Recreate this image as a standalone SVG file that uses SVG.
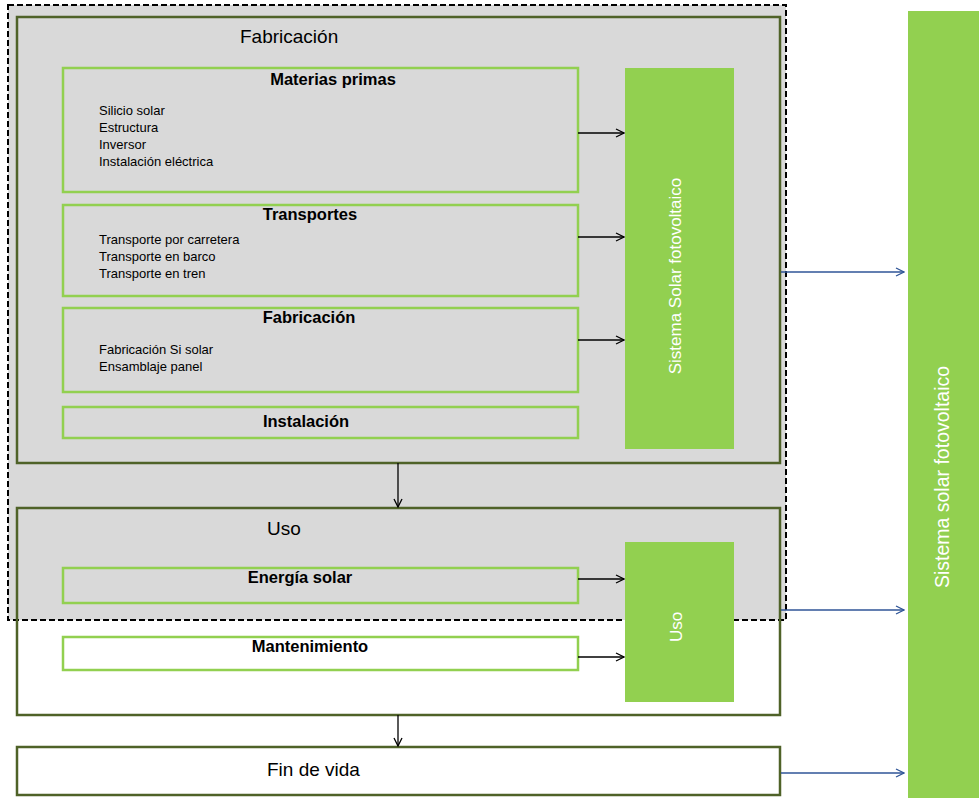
<svg xmlns="http://www.w3.org/2000/svg" width="979" height="798" viewBox="0 0 979 798">
<defs>
<style>
.t{font-family:"Liberation Sans",Arial,sans-serif;fill:#000}
.h{font-size:19px}
.b{font-size:16.5px;font-weight:bold;text-anchor:middle}
.l{font-size:13px}
.w{font-family:"Liberation Sans",Arial,sans-serif;fill:#fff;text-anchor:middle}
.dg{fill:none;stroke:#4f6228;stroke-width:2.5}
.lg{stroke:#92d050;stroke-width:2.5}
.gf{fill:#92d050}
.k{stroke:#000;stroke-width:1.3;fill:none}
.bl{stroke:#2f5597;stroke-width:1.3;fill:none}
</style>
<marker id="ak" markerWidth="10" markerHeight="10" refX="9" refY="5" orient="auto" markerUnits="userSpaceOnUse"><path d="M1,1 L9,5 L1,9" fill="none" stroke="#000" stroke-width="1.3"/></marker>
<marker id="ab" markerWidth="10" markerHeight="10" refX="9" refY="5" orient="auto" markerUnits="userSpaceOnUse"><path d="M1,1 L9,5 L1,9" fill="none" stroke="#2f5597" stroke-width="1.3"/></marker>
</defs>
<rect x="0" y="0" width="979" height="798" fill="#fff"/>
<g id="scope">
<rect x="8" y="5" width="778" height="615" fill="#d9d9d9" stroke="#000" stroke-width="2" stroke-dasharray="6,3"/>
</g>
<g id="fabricacion">
<rect class="dg" x="17" y="17" width="763" height="446"/>
<text class="t h" x="240" y="43">Fabricación</text>
</g>
<g id="materias">
<rect class="lg" x="63" y="68" width="515" height="124" fill="#d9d9d9"/>
<text class="t b" x="333" y="85">Materias primas</text>
<text class="t l" x="99" y="115">Silicio solar</text>
<text class="t l" x="99" y="132">Estructura</text>
<text class="t l" x="99" y="149">Inversor</text>
<text class="t l" x="99" y="166">Instalación eléctrica</text>
</g>
<g id="transportes">
<rect class="lg" x="63" y="205" width="515" height="91" fill="#d9d9d9"/>
<text class="t b" x="310" y="220">Transportes</text>
<text class="t l" x="99" y="244">Transporte por carretera</text>
<text class="t l" x="99" y="261">Transporte en barco</text>
<text class="t l" x="99" y="278">Transporte en tren</text>
</g>
<g id="fab-inner">
<rect class="lg" x="63" y="308" width="515" height="84" fill="#d9d9d9"/>
<text class="t b" x="309" y="323">Fabricación</text>
<text class="t l" x="99" y="354">Fabricación Si solar</text>
<text class="t l" x="99" y="371">Ensamblaje panel</text>
</g>
<g id="instalacion">
<rect class="lg" x="63" y="407" width="515" height="31" fill="#d9d9d9"/>
<text class="t b" x="306" y="427">Instalación</text>
</g>
<g id="sistema-fab">
<rect class="gf" x="625" y="68" width="109" height="381"/>
<text class="w" font-size="17" transform="translate(681,276) rotate(-90)">Sistema Solar fotovoltaico</text>
</g>
<g id="uso">
<rect class="dg" x="17" y="508" width="763" height="207"/>
<text class="t h" x="267" y="535">Uso</text>
</g>
<g id="energia">
<rect class="lg" x="63" y="568" width="515" height="35" fill="#d9d9d9"/>
<text class="t b" x="300" y="583">Energía solar</text>
</g>
<g id="mantenimiento">
<rect class="lg" x="63" y="637" width="515" height="33" fill="#fff"/>
<text class="t b" x="310" y="652">Mantenimiento</text>
</g>
<g id="uso-green">
<rect class="gf" x="625" y="542" width="109" height="160"/>
<text class="w" font-size="17" transform="translate(682,627) rotate(-90)">Uso</text>
</g>
<g id="findevida">
<rect x="17" y="747" width="763" height="48" fill="#fff" stroke="#4f6228" stroke-width="2.5"/>
<text class="t h" x="267" y="776">Fin de vida</text>
</g>
<g id="sistema-total">
<rect class="gf" x="908" y="11" width="71" height="787"/>
<text class="w" font-size="19.5" transform="translate(949,477) rotate(-90)">Sistema solar fotovoltaico</text>
</g>
<g id="connectors">
<line class="k" x1="578" y1="133" x2="624" y2="133" marker-end="url(#ak)"/>
<line class="k" x1="578" y1="237" x2="624" y2="237" marker-end="url(#ak)"/>
<line class="k" x1="578" y1="340" x2="624" y2="340" marker-end="url(#ak)"/>
<line class="k" x1="578" y1="579" x2="624" y2="579" marker-end="url(#ak)"/>
<line class="k" x1="578" y1="657" x2="624" y2="657" marker-end="url(#ak)"/>
<line class="k" x1="398" y1="463" x2="398" y2="507" marker-end="url(#ak)"/>
<line class="k" x1="398" y1="715" x2="398" y2="746" marker-end="url(#ak)"/>
<line class="bl" x1="781" y1="272" x2="904" y2="272" marker-end="url(#ab)"/>
<line class="bl" x1="781" y1="610" x2="904" y2="610" marker-end="url(#ab)"/>
<line class="bl" x1="781" y1="773" x2="904" y2="773" marker-end="url(#ab)"/>
</g>
</svg>
